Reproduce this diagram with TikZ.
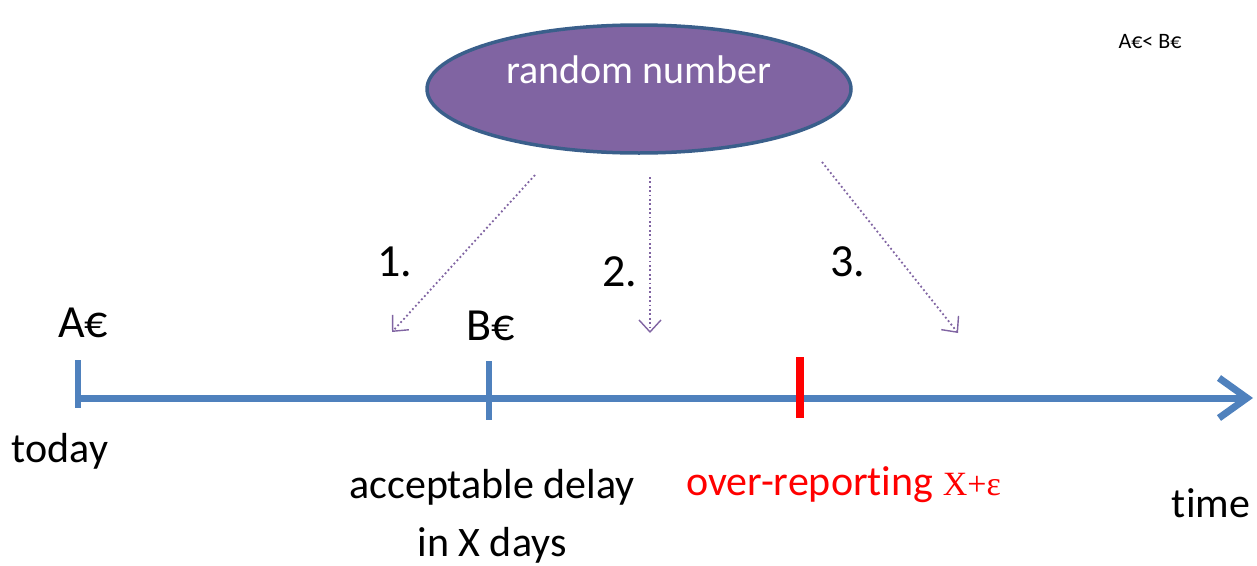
\documentclass[tikz,border=0pt]{standalone}
\usepackage{fontspec}
\setmainfont{Carlito}[Ligatures=NoCommon]
\newfontfamily\timesf{Liberation Serif}
\usetikzlibrary{arrows.meta,shapes.geometric}
\definecolor{tlblue}{HTML}{4F81BD}
\definecolor{purp}{HTML}{8064A2}
\definecolor{edgeblue}{HTML}{3A5F8B}
\definecolor{myred}{HTML}{FF0000}
\tikzset{
  lbl/.style={font=\fontsize{42}{48}\selectfont, inner sep=0pt},
  bigl/.style={font=\fontsize{46}{50}\selectfont, inner sep=0pt},
  tickb/.style={draw=tlblue, line width=6pt},
  dotarrow/.style={draw=purp, line width=1.8pt, dash pattern=on 1.8pt off 2.6pt, -{Straight Barb[length=12pt,width=22pt,line width=1.4pt]}},
}
\begin{document}
\begin{tikzpicture}[x=1pt,y=-1pt]
\useasboundingbox (0,0) rectangle (1257,565);
% ellipse
\node[ellipse, draw=edgeblue, line width=3.5pt, fill=purp, minimum width=424pt, minimum height=128pt, inner sep=0pt] (rn) at (639,89) {};
\node[lbl, text=white, font=\fontsize{40}{46}\selectfont] (rnt) at (639,70) {random number};
% timeline
\coordinate (t0) at (78,398);
\coordinate (t1) at (1253,398);
\draw[draw=tlblue, line width=7pt, -{Straight Barb[length=28pt,width=40pt,line width=7pt]}] (t0) -- (t1);
\coordinate (a1) at (78,360); \coordinate (a2) at (78,408);
\draw[tickb] (a1) -- (a2);
\coordinate (b1) at (489,361); \coordinate (b2) at (489,420);
\draw[tickb] (b1) -- (b2);
\coordinate (r1) at (800,357); \coordinate (r2) at (800,418);
\draw[draw=myred, line width=8pt] (r1) -- (r2);
% labels
\node[bigl] (A) at (83,323) {A€};
\node[bigl] (B) at (491,326) {B€};
\node[lbl] (today) at (60,451) {today};
\node[lbl] (acc) at (492,487) {acceptable delay};
\node[lbl] (inx) at (492,545) {in X days};
\node[lbl, text=myred, anchor=west] (over) at (686,485) {over-reporting {\timesf\fontsize{34}{40}\selectfont X+ε}};
\node[lbl] (time) at (1211,503) {time};
\node[font=\fontsize{22}{26}\selectfont, inner sep=0pt] (cmp) at (1150,42) {A€< B€};
% dotted arrows
\coordinate (s1) at (535,175); \coordinate (e1) at (392,332);
\coordinate (s2) at (650,177); \coordinate (e2) at (650,333);
\coordinate (s3) at (822,162); \coordinate (e3) at (958,333);
\draw[dotarrow] (s1) -- (e1);
\draw[dotarrow] (s2) -- (e2);
\draw[dotarrow] (s3) -- (e3);
\node[bigl] (n1) at (395,262) {1.};
\node[bigl] (n2) at (620,272) {2.};
\node[bigl] (n3) at (848,262) {3.};
\end{tikzpicture}
\end{document}
